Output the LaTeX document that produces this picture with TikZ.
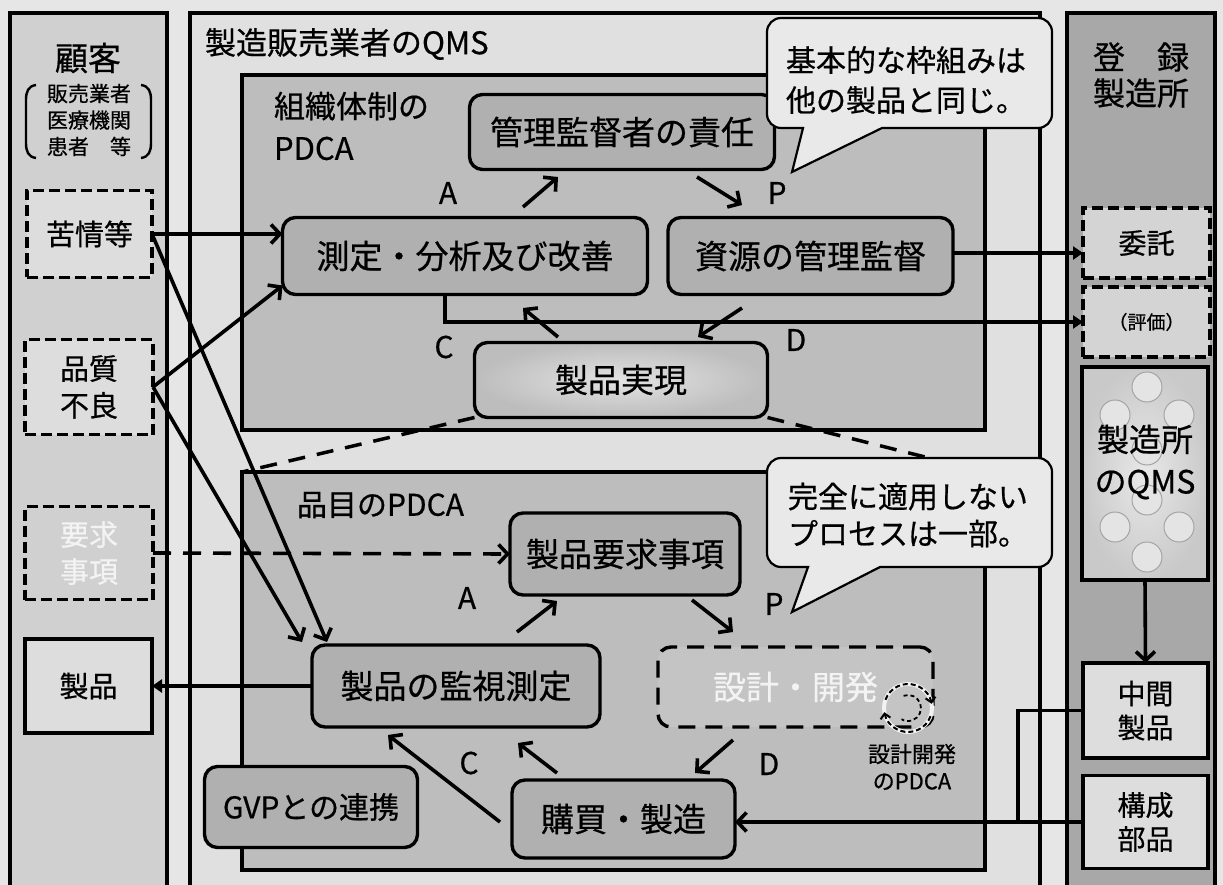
\documentclass[tikz,border=0pt]{standalone}
\usepackage{fontspec}
\setmainfont{Noto Sans CJK JP}[UprightFeatures={FakeBold=0.6}]
\usetikzlibrary{arrows.meta,calc}
\definecolor{bgc}{HTML}{E6E6E6}
\definecolor{custc}{HTML}{D0D0D0}
\definecolor{qmsc}{HTML}{E0E0E0}
\definecolor{innerc}{HTML}{BDBDBD}
\definecolor{procc}{HTML}{B0B0B0}
\definecolor{rightc}{HTML}{A8A8A8}
\definecolor{lightbox}{HTML}{DDDDDD}
\definecolor{callc}{HTML}{E9E9E9}
\definecolor{fadedc}{HTML}{F3F3F3}
\definecolor{circc}{HTML}{A4A4A4}
\definecolor{circf}{HTML}{E4E4E4}
\newcommand{\fsz}[2]{\fontsize{#1}{#2}\selectfont}
\begin{document}
\begin{tikzpicture}[x=1pt,y=-1pt,
  every node/.style={inner sep=0pt, outer sep=0pt},
  col/.style={draw, line width=3.4pt, anchor=north west},
  proc/.style={draw, line width=3.4pt, rounded corners=13pt, fill=procc, font=\fsz{33}{36}},
  dbox/.style={draw, line width=3.5pt, dash pattern=on 11pt off 5pt},
  sbox/.style={draw, line width=3.4pt},
  arr/.style={line width=3.6pt, -{Straight Barb[length=9pt,width=19pt]}},
  tarr/.style={line width=3.4pt, -{Triangle[length=10pt,width=13pt]}},
  dline/.style={line width=3.5pt, dash pattern=on 17pt off 12pt},
  lbl/.style={font=\fsz{30}{30}},
  callout/.style={draw, line width=2.2pt, fill=callc},
  qc/.style={fill=circf, draw=circc, line width=1pt}
]
\useasboundingbox (0,0) rectangle (1223,885);
\clip (0,0) rectangle (1223,885);
\fill[bgc] (0,0) rectangle (1223,885);

% columns
\node[col, fill=custc, minimum width=157pt, minimum height=930pt] (cust) at (10,13) {};
\node[col, fill=qmsc, minimum width=850pt, minimum height=930pt] (qms) at (190,13) {};
\node[col, fill=rightc, minimum width=148pt, minimum height=930pt] (rcol) at (1067,13) {};

% inner PDCA boxes
\node[col, fill=innerc, minimum width=743pt, minimum height=355pt] (inner1) at (242,75) {};
\node[col, fill=innerc, minimum width=743pt, minimum height=398pt] (inner2) at (242,472) {};

% titles
\node[font=\fsz{33}{36}] (tcust) at (88,58) {顧客};
\node[font=\fsz{21}{26.5}, align=center] (tcust2) at (89,120) {販売業者\\医療機関\\患者　等};
\draw[line width=2.4pt] (36,85) .. controls (28,86) and (26,92) .. (26,100) -- (26,143) .. controls (26,151) and (28,157) .. (36,158);
\draw[line width=2.4pt] (141,85) .. controls (149,86) and (151,92) .. (151,100) -- (151,143) .. controls (151,151) and (149,157) .. (141,158);
\node[font=\fsz{31}{36}, anchor=west] (tqms) at (205,44) {製造販売業者のQMS};
\node[font=\fsz{31}{42}, align=left, anchor=west] (tin1) at (274,126) {組織体制の\\PDCA};
\node[font=\fsz{30}{36}, anchor=west] (tin2) at (297,505) {品目のPDCA};
\node[font=\fsz{32}{36}, align=center] (trcol) at (1141,75) {登　録\\製造所};

% customer boxes
\node[dbox, fill=lightbox, minimum width=125pt, minimum height=87pt, font=\fsz{29}{36}] (kujo) at (89.5,234) {苦情等};
\node[dbox, fill=lightbox, minimum width=128pt, minimum height=95pt, font=\fsz{29}{37}, align=center] (hinshitsu) at (89,387) {品質\\不良};
\node[dbox, fill=custc, minimum width=128pt, minimum height=93pt, font=\fsz{29}{37}, align=center, text=fadedc] (yokyu) at (89,553) {要求\\事項};
\node[sbox, fill=lightbox, minimum width=127pt, minimum height=94pt, font=\fsz{29}{36}] (seihin) at (88.5,686) {製品};

% right column boxes
\node[dbox, fill=lightbox!90!gray, minimum width=127pt, minimum height=70pt, font=\fsz{28}{34}] (itaku) at (1146.5,243) {委託};
\node[dbox, fill=lightbox!90!gray, minimum width=127pt, minimum height=70pt, font=\fsz{19}{24}] (hyoka) at (1146.5,322) {（評価）};
\node[sbox, inner color=white!82!gray, outer color=gray!42, minimum width=126pt, minimum height=213pt] (fqms) at (1145,473.5) {};
\foreach \cx/\cy in {1147/387,1115/415,1179/415,1147/450,1147/500,1115/527,1179/527,1147/557}
  \draw[qc] (\cx,\cy) circle (15);
\node[font=\fsz{32}{42}, align=center] (tfqms) at (1145,462) {製造所\\のQMS};
\node[sbox, fill=lightbox, minimum width=125pt, minimum height=95pt, font=\fsz{28}{34}, align=center] (chukan) at (1145.5,710.5) {中間\\製品};
\node[sbox, fill=lightbox, minimum width=125pt, minimum height=93pt, font=\fsz{28}{34}, align=center] (kosei) at (1145.5,822) {構成\\部品};

% product realization + expansion dashed lines
\node[proc, shade, inner color=white!78!gray, outer color=gray!52, minimum width=293pt, minimum height=75pt] (jitsugen) at (621,380) {製品実現};
\draw[dline] (jitsugen.south west) -- (inner2.north west);
\draw[dline] (jitsugen.south east) -- (inner2.north east);

% top PDCA processes
\node[proc, minimum width=305pt, minimum height=75pt] (kanri) at (622,132) {管理監督者の責任};
\node[proc, minimum width=365pt, minimum height=77pt] (sokutei) at (465,256) {測定・分析及び改善};
\node[proc, minimum width=285pt, minimum height=77pt] (shigen) at (810.5,256) {資源の管理監督};

% bottom PDCA processes
\node[proc, minimum width=230pt, minimum height=82pt] (yokyujiko) at (625,554) {製品要求事項};
\node[proc, minimum width=288pt, minimum height=82pt] (kanshi) at (456,686) {製品の監視測定};
\node[proc, fill=procc!75!white, dash pattern=on 17pt off 10pt, minimum width=275pt, minimum height=80pt, text=fadedc] (sekkei) at (795.5,687) {設計・開発};
\node[proc, minimum width=223pt, minimum height=78pt] (kobai) at (623.5,819) {購買・製造};
\node[proc, font=\fsz{30}{36}, minimum width=213pt, minimum height=81pt] (gvp) at (311,807) {GVPとの連携};

% design PDCA icon
\coordinate (ic) at (908,708);
\draw[white!90!gray, line width=4pt] (ic) circle (24);
\draw[line width=2pt, dash pattern=on 5pt off 3pt, -{Straight Barb[length=5pt,width=10pt]}] ($(ic)+(200:24)$) arc[start angle=200, end angle=350, radius=24];
\draw[line width=2pt, dash pattern=on 5pt off 3pt, -{Straight Barb[length=5pt,width=10pt]}] ($(ic)+(20:24)$) arc[start angle=20, end angle=170, radius=24];
\draw[line width=1.8pt, dash pattern=on 4pt off 3pt] ($(ic)+(250:13)$) arc[start angle=250, end angle=480, radius=13];
\node[font=\fsz{22}{27}, align=center] (tsekkei) at (912,767) {設計開発\\のPDCA};

% PDCA letters
\node[lbl] (ta1) at (448,193) {A};
\node[lbl] (tp1) at (777,193) {P};
\node[lbl] (tc1) at (444,347) {C};
\node[lbl] (td1) at (796,340) {D};
\node[lbl] (ta2) at (467,598) {A};
\node[lbl] (tp2) at (774,604) {P};
\node[lbl] (tc2) at (469,763) {C};
\node[lbl] (td2) at (769,764) {D};

% PDCA arrows (top)
\coordinate (a1s) at (523,207); \coordinate (a1e) at (558,177);
\coordinate (p1s) at (697,177); \coordinate (p1e) at (742,205);
\coordinate (d1s) at (742,308); \coordinate (d1e) at (698,337);
\coordinate (c1s) at (558,337); \coordinate (c1e) at (523,308);
\draw[arr] (a1s) -- (a1e);
\draw[arr] (p1s) -- (p1e);
\draw[arr] (d1s) -- (d1e);
\draw[arr] (c1s) -- (c1e);
% PDCA arrows (bottom)
\coordinate (a2s) at (517,632); \coordinate (a2e) at (557,601);
\coordinate (p2s) at (692,600); \coordinate (p2e) at (733,632);
\coordinate (d2s) at (733,740); \coordinate (d2e) at (695,773);
\coordinate (c2s) at (557,773); \coordinate (c2e) at (518,743);
\draw[arr] (a2s) -- (a2e);
\draw[arr] (p2s) -- (p2e);
\draw[arr] (d2s) -- (d2e);
\draw[arr] (c2s) -- (c2e);
\draw[arr] ($(kobai.west)+(-12,3)$) -- ($(kanshi.south)+(-68,8)$);

% connectors
\draw[tarr] ([xshift=-20pt]sokutei.south) |- (hyoka.west);
\draw[tarr] (shigen.east |- 0,253) -- (itaku.west |- 0,253);
\draw[arr] (kujo.east) -- (kujo.east -| sokutei.west);
\draw[arr] (kujo.east) -- ($(kanshi.north west)+(15,-3)$);
\draw[arr] (hinshitsu.east) -- ($(sokutei.south west)+(0,-9)$);
\draw[arr] (hinshitsu.east) -- ($(kanshi.north west)+(-10,-3)$);
\draw[arr, dash pattern=on 18pt off 12pt] (yokyu.east) -- (yokyujiko.west);
\draw[tarr] (kanshi.west) -- (seihin.east);
\draw[arr] (fqms.south) -- (chukan.north);
\draw[line width=3.4pt] (chukan.west) -- ++(-65,0) |- (kosei.west);
\draw[arr] (kosei.west) -- (kosei.west -| kobai.east);

% callouts
\draw[callout] (792,172) -- (803,128) [rounded corners=14pt] -- (767,128) -- (767,18) -- (1052,18) -- (1052,128) [sharp corners] -- (882,128) -- cycle;
\node[font=\fsz{30}{40}, align=left] (call1) at (906,80) {基本的な枠組みは\\他の製品と同じ。};
\draw[callout] (792,612) -- (808,567) [rounded corners=14pt] -- (767,567) -- (767,458) -- (1052,458) -- (1052,567) [sharp corners] -- (880,567) -- cycle;
\node[font=\fsz{30}{37}, align=left] (call2) at (908,515) {完全に適用しない\\プロセスは一部。};
\end{tikzpicture}
\end{document}
